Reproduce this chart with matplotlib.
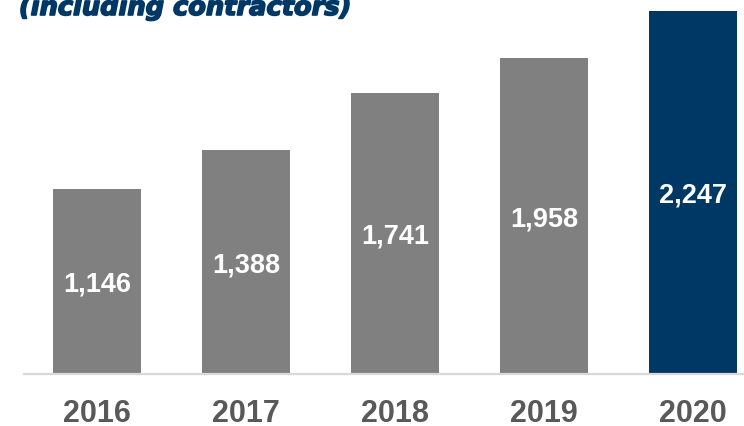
from matplotlib import pyplot as plt
import matplotlib
import matplotlib.patheffects as pe

years = ["2016", "2017", "2018", "2019", "2020"]
values = [1146, 1388, 1741, 1958, 2247]
colors = ["#808080", "#808080", "#808080", "#808080", "#003865"]
title = "(including contractors)"

matplotlib.rc('font', family=['Liberation Sans', 'DejaVu Sans'])
fig = plt.figure(figsize=(7.44, 4.27), dpi=100)
ax = fig.add_axes([24 / 744, 52 / 427, 1 - 24 / 744, 375 / 427])

x = range(len(years))
bars = ax.bar(x, values, width=0.59, color=colors, zorder=2)
for b, v in zip(bars, values):
    ax.text(b.get_x() + b.get_width() / 2, v / 2 - 15, f"{v:,}",
            ha='center', va='center', color='white',
            fontsize=19.5, fontweight='bold', zorder=3)

ax.set_xlim(-0.49, 4.34)
ax.set_ylim(0, 2322)
ax.set_yticks([])
ax.set_xticks(list(x))
ax.set_xticklabels(years, fontsize=22, fontweight='bold', color='#595959')
ax.tick_params(axis='x', length=0, pad=17)
for s in ['top', 'right', 'left']:
    ax.spines[s].set_visible(False)
ax.spines['bottom'].set_color('#d9d9d9')
ax.spines['bottom'].set_linewidth(1.6)

fig.text(19 / 744, 1 - 16 / 427, title, family='DejaVu Sans',
         fontweight='bold', style='italic', fontsize=18.5,
         color='#003865', ha='left', va='baseline',
         path_effects=[pe.withStroke(linewidth=1.2, foreground='#003865')])

plt.savefig("out.png", dpi=100)
